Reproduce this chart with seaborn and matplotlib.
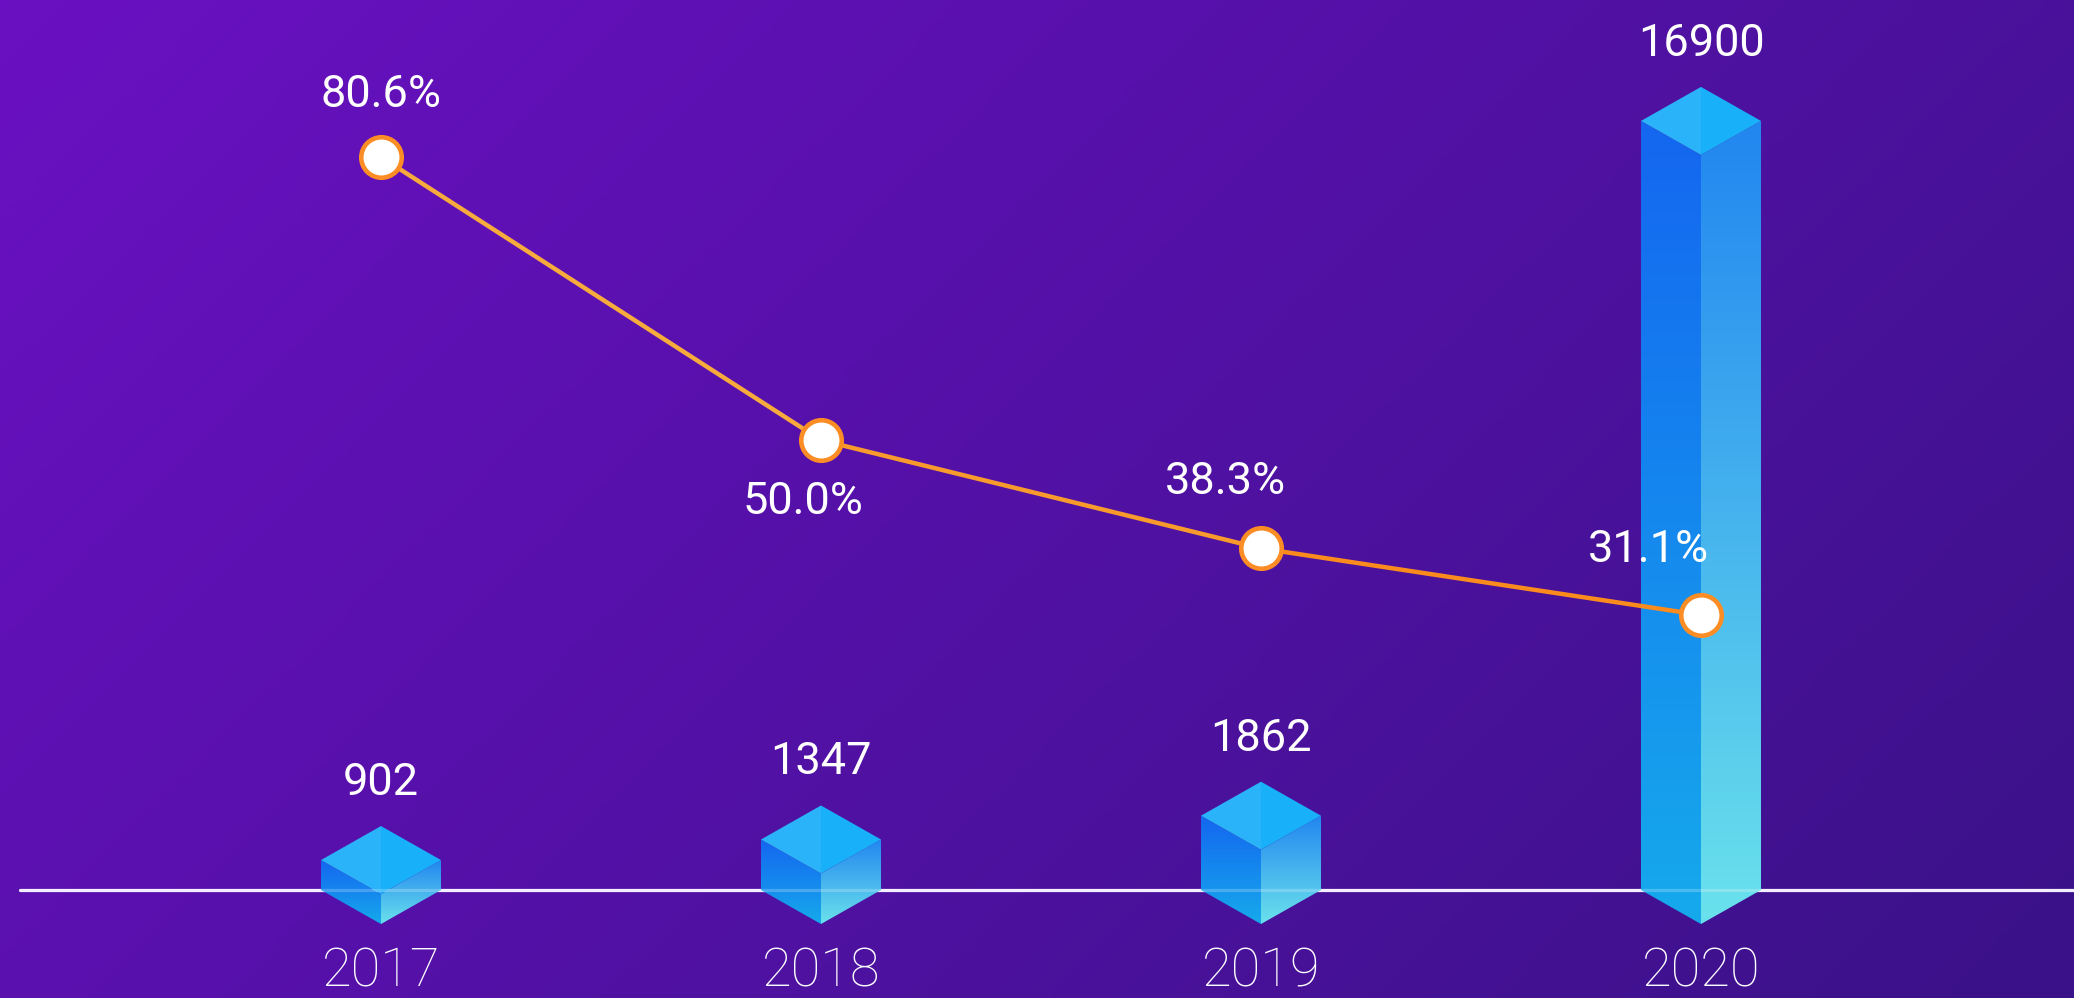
import numpy as np
import pandas as pd
import matplotlib
matplotlib.use("Agg")
import matplotlib.pyplot as plt
from matplotlib.patches import Polygon
from matplotlib.colors import to_rgb
import seaborn as sns

# data
years = ["2017", "2018", "2019", "2020"]
totals = [902, 1347, 1862, 16900]
growth = [80.6, 50.0, 38.3, 31.1]
growth_labels = ["80.6%", "50.0%", "38.3%", "31.1%"]

sns.set_theme(style="white")
plt.rcParams["font.family"] = ["Roboto", "DejaVu Sans"]

W, H, DPI = 2074, 998, 100
fig = plt.figure(figsize=(W / DPI, H / DPI), dpi=DPI)

# background: diagonal purple gradient
bg = fig.add_axes([0, 0, 1, 1], zorder=0)
gx, gy = np.meshgrid(np.linspace(0, 1, 400), np.linspace(0, 1, 200))
t = (gx * W + gy * H) / (W + H)
c0, c1 = np.array(to_rgb("#6a10c2")), np.array(to_rgb("#3a1288"))
bg.imshow(c0 + (c1 - c0) * t[..., None], aspect="auto", extent=[0, 1, 0, 1], origin="upper")
bg.axis("off")

# bar axis
ax = fig.add_axes([0, 0, 1, 1], zorder=1)
ax.patch.set_alpha(0)
x_lo, x_hi = -381 / 440, (W - 381) / 440
y_lo, y_hi = -2084, 19517
ax.set_xlim(x_lo, x_hi)
ax.set_ylim(y_lo, y_hi)
ax.axis("off")

sx = W / (x_hi - x_lo)      # px per x unit
sy = H / (y_hi - y_lo)      # px per value unit
floor = 253                 # value at the drawn base line
hw = 60 / sx                # half width of the prism
d = 34 / sy                 # isometric drop


def grad_face(verts, top, bot, z=3):
    verts = np.asarray(verts)
    poly = Polygon(verts, closed=True, facecolor="none", edgecolor="none")
    ax.add_patch(poly)
    g = np.linspace(0, 1, 256)[:, None, None]
    ct, cb = np.array(to_rgb(top)), np.array(to_rgb(bot))
    im = ax.imshow(ct + (cb - ct) * g, origin="upper", aspect="auto", zorder=z,
                   extent=[verts[:, 0].min(), verts[:, 0].max(), verts[:, 1].min(), verts[:, 1].max()])
    im.set_clip_path(poly)


ax.axhline(floor, xmin=20 / W, xmax=1, color="#f2eaff", lw=2.3, zorder=2)

for i, v in enumerate(totals):
    cx = i
    grad_face([(cx - hw, floor), (cx, floor - d), (cx, v - d), (cx - hw, v)], "#1466f0", "#16aaec")
    grad_face([(cx, floor - d), (cx + hw, floor), (cx + hw, v), (cx, v - d)], "#2286f0", "#6ae2ec")
    ax.add_patch(Polygon([(cx - hw, v), (cx, v - d), (cx, v + d)], closed=True,
                         facecolor="#2ab3f8", edgecolor="none", zorder=3))
    ax.add_patch(Polygon([(cx, v - d), (cx + hw, v), (cx, v + d)], closed=True,
                         facecolor="#19b0fa", edgecolor="none", zorder=3))
    ax.annotate(str(v), (cx, v), xytext=(0, (34 + 43) * 0.72), textcoords="offset points",
                ha="center", va="center", fontsize=32.5, color="white", zorder=6)
    ax.text(cx, 1 - 972 / H, years[i], transform=ax.get_xaxis_transform(),
            ha="center", va="center", fontsize=39, color="white", fontweight="light")

# faint base line showing through the prisms
ax.axhline(floor, xmin=20 / W, xmax=1, color="white", lw=2.3, alpha=0.22, zorder=4)

# growth line axis
ax2 = ax.twinx()
ax2.set_zorder(2)
ax2.patch.set_alpha(0)

seg_rows = []
for k in range(len(growth) - 1):
    seg_rows.append({"seg": k, "x": k, "p": growth[k]})
    seg_rows.append({"seg": k, "x": k + 1, "p": growth[k + 1]})
seg_df = pd.DataFrame(seg_rows)
sns.lineplot(data=seg_df, x="x", y="p", hue="seg", palette=["#f7ab3c", "#f99b2c", "#fc8b1e"],
             legend=False, linewidth=3.2, sort=False, estimator=None, ax=ax2, zorder=5)
sns.scatterplot(x=list(range(len(growth))), y=growth, s=850, color="white",
                edgecolor="#fb8d24", linewidth=3.3, ax=ax2, zorder=6)
ax2.set_xlim(x_lo, x_hi)
ax2.set_ylim(-10.29, 97.57)
ax2.axis("off")

label_off = [(0, -62), (-18, 62), (-36, -66), (-53, -65)]
for i, (p, lab) in enumerate(zip(growth, growth_labels)):
    dx, dy = label_off[i]
    ax2.annotate(lab, (i, p), xytext=(dx * 0.72, -dy * 0.72), textcoords="offset points",
                 ha="center", va="center", fontsize=32.5, color="white", zorder=7)

fig.savefig("out.png", dpi=DPI)
